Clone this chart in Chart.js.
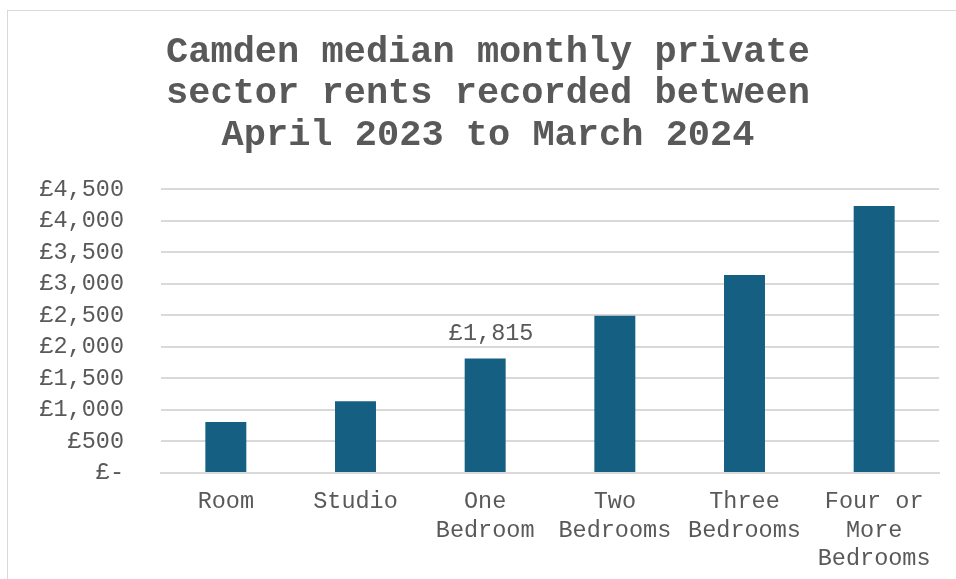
<!DOCTYPE html>
<html>
<head>
<meta charset="utf-8">
<script src="https://cdn.jsdelivr.net/npm/chart.js@4.4.1/dist/chart.umd.min.js"></script>
<style>
  html, body { margin: 0; padding: 0; background: #fff; overflow: hidden; }
  #moldura {
    position: absolute; left: 7px; top: 10px;
    width: 960px; height: 580px;
    border: 1px solid #d9d9d9; background: #fff;
  }
  #moldura canvas { display: block; }
</style>
</head>
<body>
<div id="moldura"><canvas id="grafico" width="960" height="569"></canvas></div>
<script>
// dados
const categorias = [['Room'], ['Studio'], ['One', 'Bedroom'], ['Two', 'Bedrooms'], ['Three', 'Bedrooms'], ['Four or', 'More', 'Bedrooms']];
const rendas = [810, 1140, 1815, 2495, 3140, 4235];
const rotulosVisiveis = [false, false, true, false, false, false];
const tituloLinhas = ['Camden median monthly private', 'sector rents recorded between', 'April 2023 to March 2024'];

const corBarra = '#156082', corTexto = '#595959', corGrid = '#d9d9d9';
const fonte = "'Liberation Mono', 'Courier New', monospace";

const formatarLibra = (v) => v === 0 ? '£-' : '£' + v.toLocaleString('en-GB');

// rótulo de dados só na barra marcada
const rotuloDados = {
    id: 'rotuloDados',
    afterDatasetsDraw(chart) {
        const ctx = chart.ctx;
        const meta = chart.getDatasetMeta(0);
        ctx.save();
        ctx.font = `23.5px ${fonte}`;
        ctx.fillStyle = corTexto;
        ctx.textAlign = 'center';
        ctx.textBaseline = 'middle';
        meta.data.forEach((bar, i) => {
            if (!rotulosVisiveis[i]) return;
            ctx.fillText(formatarLibra(rendas[i]), bar.x + 6, bar.y - 25);
        });
        ctx.restore();
    }
};

new Chart('grafico', {
    type: 'bar',
    data: {
        labels: categorias,
        datasets: [{
            data: rendas,
            backgroundColor: corBarra,
            categoryPercentage: 1,
            barPercentage: 0.316
        }]
    },
    options: {
        responsive: false,
        animation: false,
        layout: { padding: { left: 29, right: 29, top: 0, bottom: 0 } },
        plugins: {
            legend: { display: false },
            tooltip: { enabled: false },
            title: {
                display: true,
                text: tituloLinhas,
                color: corTexto,
                font: { family: fonte, size: 37, weight: 'bold', lineHeight: 1.12 },
                padding: { top: 21, bottom: 33 }
            }
        },
        scales: {
            y: {
                min: 0, max: 4500,
                ticks: { stepSize: 500, color: corTexto, padding: 37, font: { family: fonte, size: 23.5 }, callback: (v) => formatarLibra(v) },
                grid: { color: corGrid, lineWidth: 2, drawTicks: false },
                border: { display: false },
                afterFit: (s) => { s.width = 124; }
            },
            x: {
                ticks: { color: corTexto, padding: 15, maxRotation: 0, autoSkip: false, font: { family: fonte, size: 23.5, lineHeight: 1.2 } },
                grid: { display: false, drawTicks: false },
                border: { color: corGrid, width: 2 },
                afterFit: (s) => { s.height = 107; }
            }
        }
    },
    plugins: [rotuloDados]
});
</script>
</body>
</html>
